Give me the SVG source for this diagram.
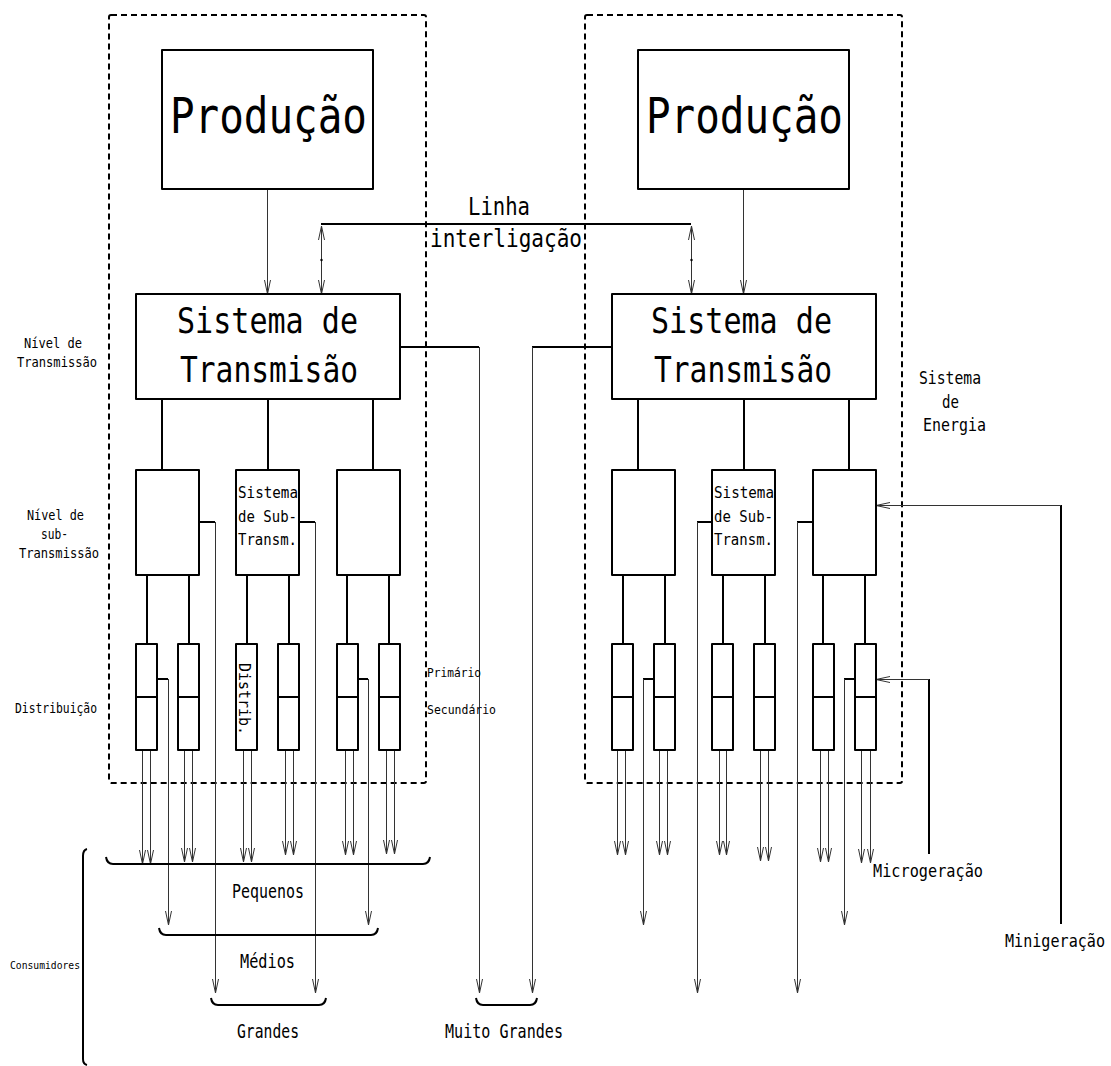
<svg xmlns="http://www.w3.org/2000/svg" width="1111" height="1066" viewBox="0 0 1111 1066">
  <defs>
    <style>
      .box { fill: #fff; stroke: #000; stroke-width: 2; stroke-linejoin: round; }
      .frame { fill: none; stroke: #000; stroke-width: 2; stroke-dasharray: 6 4; }
      .thick { fill: none; stroke: #000; stroke-width: 2; stroke-linejoin: round; }
      .thin { fill: none; stroke: #333; stroke-width: 1; }
      .arr { marker-end: url(#ah); }
      .dbl { marker-start: url(#ah2); marker-end: url(#ah2); }
      text { font-family: "DejaVu Sans Mono", "Liberation Mono", monospace; fill: #000; }
      .mid { text-anchor: middle; }
    </style>
    <marker id="ah" markerUnits="userSpaceOnUse" markerWidth="1" markerHeight="1" refX="0" refY="0" orient="auto" overflow="visible">
      <path d="M-14,-3 L0,0 L-14,3" fill="none" stroke="#333" stroke-width="1"/>
    </marker>
    <marker id="ah2" markerUnits="userSpaceOnUse" markerWidth="1" markerHeight="1" refX="0" refY="0" orient="auto-start-reverse" overflow="visible">
      <path d="M-14,-3 L0,0 L-14,3" fill="none" stroke="#333" stroke-width="1"/>
    </marker>
  </defs>

  <rect width="1111" height="1066" fill="#fff"/>

  <!-- dashed power-system frames -->
  <g id="system-left"><rect class="frame" x="109" y="15" width="317" height="768" rx="2"/></g>
  <g id="system-right"><rect class="frame" x="585" y="15" width="317" height="768" rx="2"/></g>

  <!-- connectors -->
  <g id="connectors">
    <!-- generation to transmission -->
    <path class="thin arr" d="M267.5,189 V294"/>
    <path class="thin arr" d="M743.5,189 V294"/>
    <!-- interconnection line -->
    <path class="thick" d="M321,224 H691"/>
    <path class="thin dbl" d="M321.5,226 V294"/>
    <path class="thin dbl" d="M691.5,226 V294"/>
    <circle cx="321.5" cy="260" r="1.2" fill="#000"/>
    <circle cx="691.5" cy="260" r="1.2" fill="#000"/>

    <!-- transmission to sub-transmission -->
    <path class="thick" d="M162,399 V470 M268,399 V470 M373,399 V470"/>
    <path class="thick" d="M638,399 V470 M744,399 V470 M849,399 V470"/>
    <!-- sub-transmission to distribution -->
    <path class="thick" d="M147,575 V644 M189,575 V644 M247,575 V644 M289,575 V644 M347,575 V644 M389,575 V644"/>
    <path class="thick" d="M623,575 V644 M665,575 V644 M723,575 V644 M765,575 V644 M823,575 V644 M865,575 V644"/>

    <!-- distribution feeders to small consumers -->
    <path class="thin arr" d="M142.5,750 V864"/>
    <path class="thin arr" d="M150.5,750 V864"/>
    <path class="thin arr" d="M184.5,750 V862"/>
    <path class="thin arr" d="M192.5,750 V862"/>
    <path class="thin arr" d="M243.5,750 V862"/>
    <path class="thin arr" d="M251.5,750 V862"/>
    <path class="thin arr" d="M285.5,750 V855"/>
    <path class="thin arr" d="M293.5,750 V855"/>
    <path class="thin arr" d="M345.5,750 V855"/>
    <path class="thin arr" d="M353.5,750 V855"/>
    <path class="thin arr" d="M386.5,750 V854"/>
    <path class="thin arr" d="M394.5,750 V854"/>

    <path class="thin arr" d="M617.5,750 V855"/>
    <path class="thin arr" d="M625.5,750 V855"/>
    <path class="thin arr" d="M659.5,750 V855"/>
    <path class="thin arr" d="M667.5,750 V855"/>
    <path class="thin arr" d="M719.5,750 V855"/>
    <path class="thin arr" d="M726.5,750 V855"/>
    <path class="thin arr" d="M760.5,750 V861"/>
    <path class="thin arr" d="M768.5,750 V861"/>
    <path class="thin arr" d="M820.5,750 V862"/>
    <path class="thin arr" d="M828.5,750 V862"/>
    <path class="thin arr" d="M861.5,750 V863"/>
    <path class="thin arr" d="M870.5,750 V863"/>

    <!-- medium consumers (primary feeders) -->
    <path class="thick" d="M157,679 H168"/>
    <path class="thin arr" d="M168.5,679 V925"/>
    <path class="thick" d="M358,679 H368"/>
    <path class="thin arr" d="M368.5,679 V925"/>
    <path class="thick" d="M654,679 H643"/>
    <path class="thin arr" d="M643.5,679 V925"/>
    <path class="thick" d="M855,679 H844"/>
    <path class="thin arr" d="M844.5,679 V925"/>

    <!-- large consumers (sub-transmission) -->
    <path class="thick" d="M199,522 H215"/>
    <path class="thin arr" d="M215.5,522 V993"/>
    <path class="thick" d="M299,522 H315"/>
    <path class="thin arr" d="M315.5,522 V993"/>
    <path class="thick" d="M712,522 H697"/>
    <path class="thin arr" d="M697.5,522 V993"/>
    <path class="thick" d="M813,522 H797"/>
    <path class="thin arr" d="M797.5,522 V993"/>

    <!-- very large consumers (transmission) -->
    <path class="thick" d="M400,347 H479"/>
    <path class="thin arr" d="M479.5,347 V993"/>
    <path class="thick" d="M612,347 H532"/>
    <path class="thin arr" d="M532.5,347 V993"/>

    <!-- distributed generation injections -->
    <path class="thick" d="M929,679 V854"/>
    <path class="thin arr" d="M929,679.5 H876"/>
    <path class="thick" d="M1061,505 V924"/>
    <path class="thin arr" d="M1061,505.5 H876"/>

    <!-- consumer group brackets -->
    <path class="thick" d="M106,857 Q107,864 113,864 H423 Q429,864 430,857"/>
    <path class="thick" d="M159,928 Q160,935 166,935 H371 Q377,935 378,928"/>
    <path class="thick" d="M211,998 Q212,1005 218,1005 H319 Q325,1005 326,998"/>
    <path class="thick" d="M476,998 Q477,1005 483,1005 H530 Q536,1005 537,998"/>
    <path class="thick" d="M87,849 Q83,850 83,856 V1059 Q83,1064 87,1065"/>
  </g>

  <!-- generation -->
  <g id="producao-left">
    <rect class="box" x="162" y="50" width="211" height="139"/>
    <text class="mid" x="268.5" y="133" font-size="50" textLength="197" lengthAdjust="spacingAndGlyphs">Produção</text>
  </g>
  <g id="producao-right">
    <rect class="box" x="638" y="50" width="211" height="139"/>
    <text class="mid" x="744.5" y="133" font-size="50" textLength="197" lengthAdjust="spacingAndGlyphs">Produção</text>
  </g>

  <!-- transmission -->
  <g id="transmissao-left">
    <rect class="box" x="136" y="294" width="264" height="105"/>
    <text class="mid" x="267.5" y="333" font-size="36" textLength="181" lengthAdjust="spacingAndGlyphs">Sistema de</text>
    <text class="mid" x="269" y="382" font-size="36" textLength="178" lengthAdjust="spacingAndGlyphs">Transmisão</text>
  </g>
  <g id="transmissao-right">
    <rect class="box" x="612" y="294" width="264" height="105"/>
    <text class="mid" x="741.5" y="333" font-size="36" textLength="181" lengthAdjust="spacingAndGlyphs">Sistema de</text>
    <text class="mid" x="743" y="382" font-size="36" textLength="178" lengthAdjust="spacingAndGlyphs">Transmisão</text>
  </g>

  <g id="interligacao">
    <text class="mid" x="499" y="215" font-size="25" textLength="62" lengthAdjust="spacingAndGlyphs">Linha</text>
    <text class="mid" x="506" y="247" font-size="25" textLength="152" lengthAdjust="spacingAndGlyphs">interligação</text>
  </g>

  <!-- sub-transmission -->
  <g id="subtrans-left-1"><rect class="box" x="136" y="470" width="63" height="105"/></g>
  <g id="subtrans-left-2">
    <rect class="box" x="236" y="470" width="63" height="105"/>
    <text x="238" y="498" font-size="15.5" textLength="60" lengthAdjust="spacingAndGlyphs">Sistema</text>
    <text x="238" y="522" font-size="15.5" textLength="59" lengthAdjust="spacingAndGlyphs">de Sub-</text>
    <text x="238" y="545" font-size="15.5" textLength="59" lengthAdjust="spacingAndGlyphs">Transm.</text>
  </g>
  <g id="subtrans-left-3"><rect class="box" x="337" y="470" width="63" height="105"/></g>
  <g id="subtrans-right-1"><rect class="box" x="612" y="470" width="63" height="105"/></g>
  <g id="subtrans-right-2">
    <rect class="box" x="712" y="470" width="63" height="105"/>
    <text x="714" y="498" font-size="15.5" textLength="60" lengthAdjust="spacingAndGlyphs">Sistema</text>
    <text x="714" y="522" font-size="15.5" textLength="59" lengthAdjust="spacingAndGlyphs">de Sub-</text>
    <text x="714" y="545" font-size="15.5" textLength="59" lengthAdjust="spacingAndGlyphs">Transm.</text>
  </g>
  <g id="subtrans-right-3"><rect class="box" x="813" y="470" width="63" height="105"/></g>

  <!-- distribution (primary / secondary) -->
  <g id="dist-left-1"><rect class="box" x="136" y="644" width="21" height="106"/><path class="thick" d="M136,697 H157"/></g>
  <g id="dist-left-2"><rect class="box" x="178" y="644" width="21" height="106"/><path class="thick" d="M178,697 H199"/></g>
  <g id="dist-left-3">
    <rect class="box" x="236" y="644" width="21" height="106"/>
    <text transform="translate(239,663) rotate(90)" font-size="15" textLength="72" lengthAdjust="spacingAndGlyphs">Distrib.</text>
  </g>
  <g id="dist-left-4"><rect class="box" x="278" y="644" width="21" height="106"/><path class="thick" d="M278,697 H299"/></g>
  <g id="dist-left-5"><rect class="box" x="337" y="644" width="21" height="106"/><path class="thick" d="M337,697 H358"/></g>
  <g id="dist-left-6"><rect class="box" x="379" y="644" width="21" height="106"/><path class="thick" d="M379,697 H400"/></g>

  <g id="dist-right-1"><rect class="box" x="612" y="644" width="21" height="106"/><path class="thick" d="M612,697 H633"/></g>
  <g id="dist-right-2"><rect class="box" x="654" y="644" width="21" height="106"/><path class="thick" d="M654,697 H675"/></g>
  <g id="dist-right-3"><rect class="box" x="712" y="644" width="21" height="106"/><path class="thick" d="M712,697 H733"/></g>
  <g id="dist-right-4"><rect class="box" x="754" y="644" width="21" height="106"/><path class="thick" d="M754,697 H775"/></g>
  <g id="dist-right-5"><rect class="box" x="813" y="644" width="21" height="106"/><path class="thick" d="M813,697 H834"/></g>
  <g id="dist-right-6"><rect class="box" x="855" y="644" width="21" height="106"/><path class="thick" d="M855,697 H876"/></g>

  <!-- level labels -->
  <g id="labels-levels">
    <text class="mid" x="53" y="348" font-size="14" textLength="58" lengthAdjust="spacingAndGlyphs">Nível de</text>
    <text class="mid" x="57" y="367" font-size="14" textLength="80" lengthAdjust="spacingAndGlyphs">Transmissão</text>
    <text class="mid" x="55.5" y="520" font-size="14" textLength="57" lengthAdjust="spacingAndGlyphs">Nível de</text>
    <text class="mid" x="54.5" y="539" font-size="14" textLength="27" lengthAdjust="spacingAndGlyphs">sub-</text>
    <text class="mid" x="59" y="558" font-size="14" textLength="80" lengthAdjust="spacingAndGlyphs">Transmissão</text>
    <text class="mid" x="56" y="713" font-size="14" textLength="82" lengthAdjust="spacingAndGlyphs">Distribuição</text>
    <text x="427" y="677" font-size="13" textLength="54" lengthAdjust="spacingAndGlyphs">Primário</text>
    <text x="427" y="714" font-size="13" textLength="69" lengthAdjust="spacingAndGlyphs">Secundário</text>
  </g>

  <g id="label-sistema-energia">
    <text class="mid" x="950" y="384" font-size="18" textLength="62" lengthAdjust="spacingAndGlyphs">Sistema</text>
    <text class="mid" x="950.5" y="408" font-size="18" textLength="17" lengthAdjust="spacingAndGlyphs">de</text>
    <text class="mid" x="954.5" y="431" font-size="18" textLength="63" lengthAdjust="spacingAndGlyphs">Energia</text>
  </g>

  <!-- consumer groups -->
  <g id="consumidores">
    <text x="10" y="969" font-size="11" textLength="70" lengthAdjust="spacingAndGlyphs">Consumidores</text>
    <text class="mid" x="268" y="898" font-size="20" textLength="72" lengthAdjust="spacingAndGlyphs">Pequenos</text>
    <text class="mid" x="267.5" y="968" font-size="20" textLength="55" lengthAdjust="spacingAndGlyphs">Médios</text>
    <text class="mid" x="268" y="1038" font-size="20" textLength="62" lengthAdjust="spacingAndGlyphs">Grandes</text>
    <text class="mid" x="504" y="1038" font-size="20" textLength="118" lengthAdjust="spacingAndGlyphs">Muito Grandes</text>
  </g>

  <g id="geracao-distribuida">
    <text x="873" y="877" font-size="17" textLength="110" lengthAdjust="spacingAndGlyphs">Microgeração</text>
    <text x="1005" y="947" font-size="18" textLength="100" lengthAdjust="spacingAndGlyphs">Minigeração</text>
  </g>
</svg>
